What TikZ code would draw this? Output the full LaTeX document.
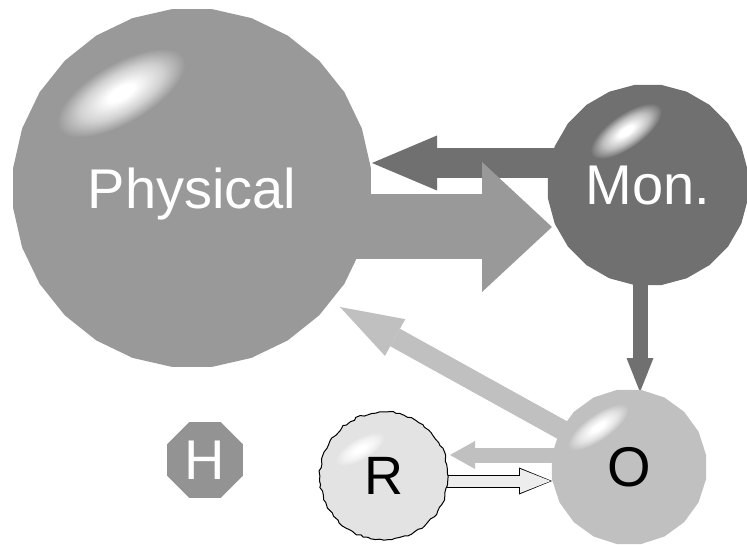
\documentclass[tikz,border=0pt]{standalone}
\usepackage{fontspec}
\setmainfont{Liberation Sans}
\usetikzlibrary{shapes.geometric}
\usetikzlibrary{arrows.meta}
\usetikzlibrary{backgrounds}
\usetikzlibrary{decorations.pathmorphing}
\definecolor{physgray}{HTML}{999999}
\definecolor{mongray}{HTML}{707070}
\definecolor{ogray}{HTML}{C0C0C0}
\definecolor{rgray}{HTML}{E3E3E3}
\definecolor{hgray}{HTML}{939393}
\colorlet{shinecolor}{physgray}
\pgfdeclareradialshading[shinecolor]{shine}{\pgfpoint{0bp}{0bp}}{%
	color(0bp)=(white);color(5bp)=(white);color(16bp)=(shinecolor!45!white);
	color(25bp)=(shinecolor);color(50bp)=(shinecolor)}
\tikzset{% 
	ball/.style={regular polygon,regular polygon sides=#1,inner sep=0pt,text depth=0pt,font=\fontsize{56}{60}\selectfont}
}
\tikzset{% 
	block/.style n args={3}{line width=#1,-{Triangle[length=#2,width=#3,line width=0pt]}}
}
\tikzset{% 
	shine/.code={\colorlet{shinecolor}{#1}\tikzset{shading=shine}}
}

\begin{document}
\begin{tikzpicture}[x=1pt,y=-1pt]
		\useasboundingbox (0,0) rectangle (747,545);

		%Spheres
		\node [ball=28,fill=physgray,text=white,minimum size=360pt] (phys) at (192,188) {Physical};
		\node [ball=24,fill=mongray,text=white,minimum size=202pt] (mon) at (648,185) {Mon.};
		\node [ball=20,fill=ogray,minimum size=156pt] (o) at (629,467) {O};
		\node [ball=8,fill=hgray,text=white,minimum size=82pt] (h) at (205,460) {H};
		\node [circle,inner sep=0pt,text depth=0pt,minimum size=128pt,fill=rgray,draw=black,line width=1pt,
			decorate,decoration={random steps,segment length=4pt,amplitude=1.1pt},
			font=\fontsize{54}{58}\selectfont] (r) at (384,476) {R};

		%Shine on top of the spheres
		\shade [shine=physgray,transform canvas={shift={(121,93)},rotate=30}] (0,0) ellipse [x radius=72pt,y radius=30pt];
		\shade [shine=mongray,transform canvas={shift={(626,131)},rotate=35}] (0,0) ellipse [x radius=42pt,y radius=17pt];
		\shade [shine=ogray,transform canvas={shift={(598,427)},rotate=35}] (0,0) ellipse [x radius=36pt,y radius=13pt];
		\shade [shine=rgray,transform canvas={shift={(360,449)},rotate=30}] (0,0) ellipse [x radius=28pt,y radius=11pt];

		\begin{pgfonlayer}{background}
		%Mon. back to Physical
		\draw [block={30pt}{65pt}{55pt},mongray] ([yshift=22pt]mon.center) -- ([xshift=180pt,yshift=25pt]phys.center);
		%Physical to Mon.
		\draw [block={65pt}{70pt}{130pt},physgray] ([yshift=-39pt]phys.center) -- ([xshift=-96pt,yshift=-42pt]mon.center);
		%Mon. down to O
		\draw [block={15pt}{34pt}{27pt},mongray] ([xshift=-8pt]mon.center) -- ([xshift=11pt,yshift=75pt]o.center);
		%O back to Physical
		\draw [block={20pt}{63pt}{42pt},ogray] (o.center) -- ([xshift=148pt,yshift=-119pt]phys.center);
		%O to R
		\draw [block={15pt}{25pt}{28pt},ogray] ([yshift=12pt]o.center) -- ([xshift=66pt,yshift=21pt]r.center);
		%R to O, outlined
		\draw [block={13pt}{33pt}{27pt},black] ([yshift=-5pt]r.center) -- ([xshift=-77pt,yshift=-14pt]o.center);
		\draw [block={11pt}{30.5pt}{24pt},white!93!black,shorten >=1.3pt] ([yshift=-5pt]r.center) -- ([xshift=-77pt,yshift=-14pt]o.center);
		\end{pgfonlayer}

	\end{tikzpicture}
\end{document}
